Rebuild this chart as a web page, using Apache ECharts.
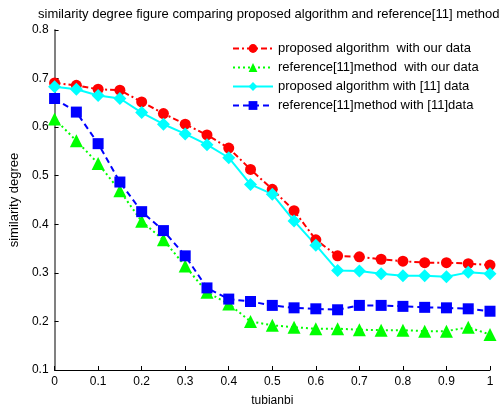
<!DOCTYPE html>
<html>
<head>
<meta charset="utf-8">
<script src="https://cdn.jsdelivr.net/npm/echarts@6/dist/echarts.min.js"></script>
<style>
  html, body { margin: 0; padding: 0; background: #fff; }
  #chart { width: 499px; height: 412px; }
</style>
</head>
<body>
<div id="chart"></div>
<script>
const xs = [0, 0.05, 0.1, 0.15, 0.2, 0.25, 0.3, 0.35, 0.4, 0.45, 0.5,
  0.55, 0.6, 0.65, 0.7, 0.75, 0.8, 0.85, 0.9, 0.95, 1]

// proposed algorithm with our data
const propOur = [0.691, 0.686, 0.678, 0.676, 0.652, 0.628, 0.606, 0.584, 0.557, 0.513, 0.472,
  0.428, 0.368, 0.335, 0.333, 0.328, 0.324, 0.321, 0.321, 0.319, 0.316]
// reference[11] method with our data
const refOur = [0.617, 0.572, 0.525, 0.469, 0.406, 0.368, 0.314, 0.260, 0.236, 0.200, 0.192,
  0.188, 0.185, 0.185, 0.183, 0.182, 0.182, 0.180, 0.180, 0.188, 0.173]
// proposed algorithm with [11] data
const prop11 = [0.683, 0.678, 0.665, 0.659, 0.630, 0.606, 0.586, 0.564, 0.537, 0.482, 0.462,
  0.407, 0.357, 0.305, 0.304, 0.298, 0.294, 0.294, 0.292, 0.301, 0.298]
// reference[11] method with [11] data
const ref11 = [0.659, 0.631, 0.566, 0.487, 0.426, 0.387, 0.335, 0.269, 0.246, 0.241, 0.233,
  0.228, 0.226, 0.224, 0.233, 0.233, 0.231, 0.229, 0.228, 0.226, 0.221]

const names = [
  'proposed algorithm  with our data',
  'reference[11]method  with our data',
  'proposed algorithm with [11] data',
  'reference[11]method with [11]data'
]

const pairs = arr => xs.map((x, i) => [x, arr[i]])

const chart = echarts.init(document.getElementById('chart'))
const font = 'Liberation Sans, Arial, sans-serif'

const option = {
  backgroundColor: '#fff',
  animation: false,
  textStyle: { fontFamily: font },
  title: {
    text: 'similarity degree figure comparing proposed algorithm and reference[11] method',
    left: 33,
    top: 3,
    textStyle: { fontSize: 13, fontWeight: 'normal', color: '#000', fontFamily: font }
  },
  legend: {
    orient: 'vertical',
    left: 227,
    top: 37,
    itemWidth: 40,
    itemHeight: 11,
    itemGap: 6,
    textStyle: { fontSize: 13, color: '#000', fontFamily: font },
    data: names
  },
  grid: { left: 53, right: 9, top: 30, bottom: 39 },
  xAxis: {
    type: 'value',
    min: 0,
    max: 1,
    interval: 0.1,
    name: 'tubianbi',
    nameLocation: 'middle',
    nameGap: 25,
    nameTextStyle: { fontSize: 12, color: '#000' },
    axisLine: { lineStyle: { color: '#000', width: 1 } },
    axisTick: { inside: true, length: 4, lineStyle: { color: '#000' } },
    axisLabel: { fontSize: 12, color: '#000', margin: 6 },
    splitLine: { show: false }
  },
  yAxis: {
    type: 'value',
    min: 0.1,
    max: 0.8,
    interval: 0.1,
    name: 'similarity degree',
    nameLocation: 'middle',
    nameGap: 33,
    nameTextStyle: { fontSize: 13, color: '#000' },
    axisLine: { show: true, lineStyle: { color: '#808080', width: 2 } },
    axisTick: { show: true, inside: true, length: 4, lineStyle: { color: '#000' } },
    axisLabel: { fontSize: 12, color: '#000', margin: 6 },
    splitLine: { show: false }
  },
  series: [
    {
      name: names[0],
      type: 'line',
      data: pairs(propOur),
      symbol: 'circle',
      symbolSize: 11,
      color: '#ff0000',
      lineStyle: { width: 2, type: [6, 3, 2, 3] }
    },
    {
      name: names[1],
      type: 'line',
      data: pairs(refOur),
      symbol: 'triangle',
      symbolSize: 13,
      color: '#00ff00',
      lineStyle: { width: 2, type: [2, 3] }
    },
    {
      name: names[2],
      type: 'line',
      data: pairs(prop11),
      symbol: 'diamond',
      symbolSize: 13,
      color: '#00ffff',
      lineStyle: { width: 2, type: 'solid' }
    },
    {
      name: names[3],
      type: 'line',
      data: pairs(ref11),
      symbol: 'rect',
      symbolSize: 11,
      color: '#0000ff',
      lineStyle: { width: 2, type: [6, 4] }
    }
  ]
}

chart.setOption(option)
window.addEventListener('resize', () => {
  chart.resize()
})
</script>
</body>
</html>
